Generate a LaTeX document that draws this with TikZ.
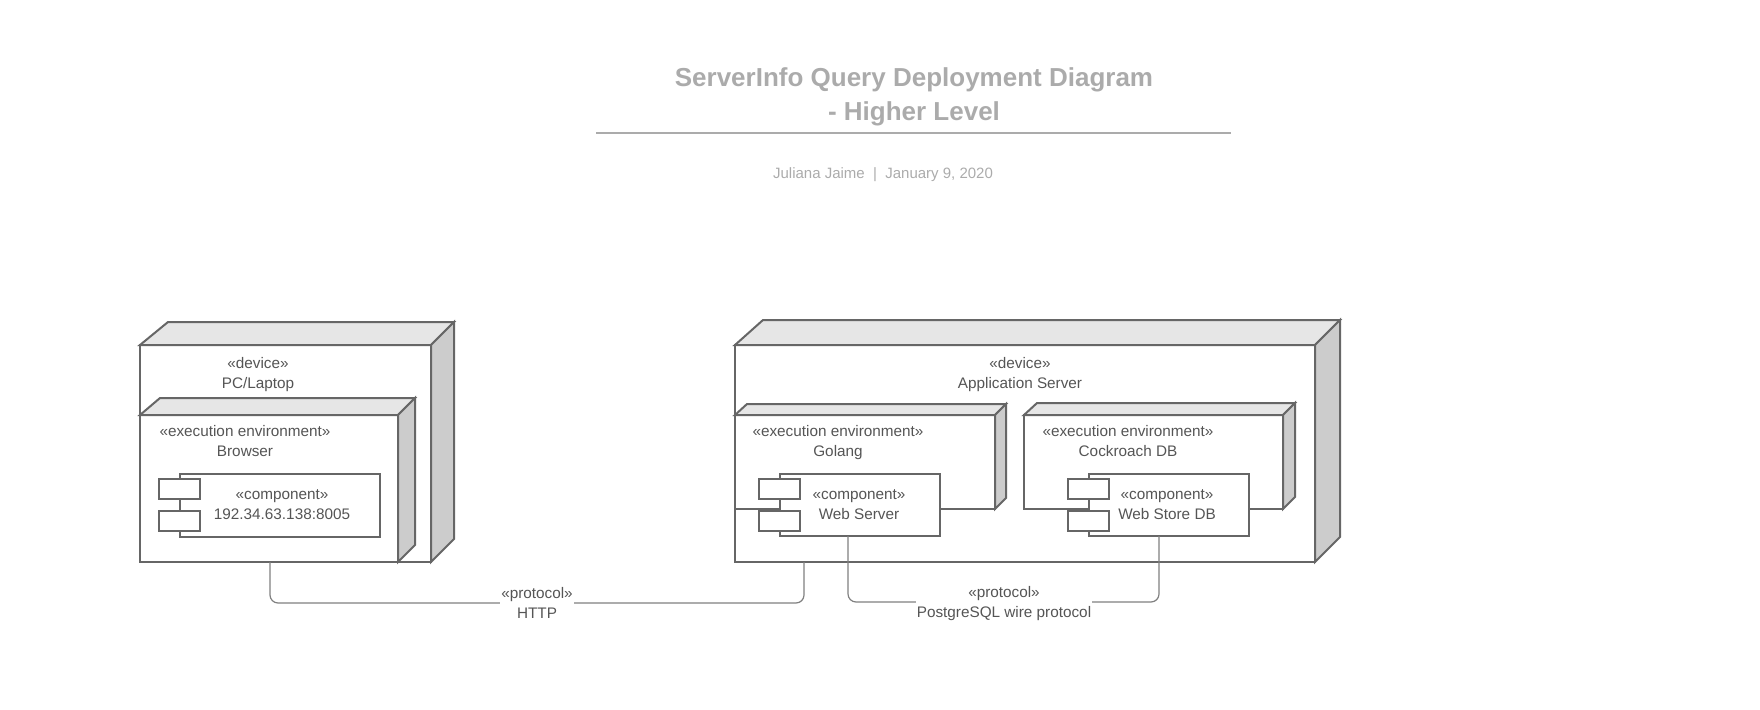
\documentclass[tikz,border=0pt]{standalone}
\usepackage{fontspec}
\setmainfont{Liberation Sans}
\usetikzlibrary{positioning,calc}

\definecolor{boxline}{HTML}{666666}
\definecolor{topgray}{HTML}{E6E6E6}
\definecolor{sidegray}{HTML}{CCCCCC}
\definecolor{labelgray}{HTML}{555555}
\definecolor{titlegray}{HTML}{ABABAB}
\definecolor{linkgray}{HTML}{808080}

% top and right faces of a 3d box: node, depth, left slant
\newcommand{\cubesides}[3]{%
  \filldraw[cubeface, fill=topgray] (#1.north west) -- ++(#3,-#2) -- ([shift={(#2,-#2)}]#1.north east) -- (#1.north east) -- cycle;
  \filldraw[cubeface, fill=sidegray] (#1.north east) -- ([shift={(#2,-#2)}]#1.north east) -- ([shift={(#2,-#2)}]#1.south east) -- (#1.south east) -- cycle;
}
% two text lines of equal height
\newcommand{\twolines}[2]{\strut#1\\\strut#2}

\begin{document}
\begin{tikzpicture}[x=1pt,y=-1pt,
    box/.style={draw=boxline, line width=2pt, fill=white, rectangle, anchor=north west, inner sep=0pt, outer sep=0pt},
    cubeface/.style={draw=boxline, line width=2pt, line join=miter},
    port/.style={box, minimum width=41pt, minimum height=20pt},
    txt/.style={text=labelgray, font=\fontsize{15.3}{20}\selectfont, align=center, inner sep=0pt},
    proto/.style={txt, fill=white, inner xsep=1pt, inner ysep=0pt},
    conn/.style={draw=linkgray, line width=1.2pt, rounded corners=8pt}]
    \useasboundingbox (0,0) rectangle (1760,709);

    % heading
    \node[font=\bfseries\fontsize{26}{34}\selectfont, text=titlegray, align=center] (title) at (914,97) {ServerInfo Query Deployment Diagram\\- Higher Level};
    \draw[titlegray, line width=1.5pt] (596,133) -- (1231,133);
    \node[font=\fontsize{15}{18}\selectfont, text=titlegray] (byline) at (883,175) {Juliana Jaime ~|~ January 9, 2020};

    % client side
    \node[box, minimum width=291pt, minimum height=217pt] (pcdev) at (140,345) {};
    \cubesides{pcdev}{23}{28}
    \node[txt] (pclbl) at (258,374.5) {\twolines{«device»}{PC/Laptop}};
    \node[box, minimum width=258pt, minimum height=147pt] (browser) at (140,415) {};
    \cubesides{browser}{17}{20}
    \node[txt] (browserlbl) at (245,442.5) {\twolines{«execution environment»}{Browser}};
    \node[box, minimum width=200pt, minimum height=63pt] (ipcomp) at (180,474) {};
    \node[port] (ipport1) at (159,479) {};
    \node[port] (ipport2) at (159,511) {};
    \node[txt] (iplbl) at (282,505.5) {\twolines{«component»}{192.34.63.138:8005}};

    % server side
    \node[box, minimum width=580pt, minimum height=217pt] (appdev) at (735,345) {};
    \cubesides{appdev}{25}{28}
    \node[txt] (applbl) at (1020,374.5) {\twolines{«device»}{Application Server}};

    \node[box, minimum width=260pt, minimum height=94pt] (golang) at (735,415) {};
    \cubesides{golang}{11}{12}
    \node[txt] (golanglbl) at (838,442.5) {\twolines{«execution environment»}{Golang}};
    \node[box, minimum width=160pt, minimum height=62pt] (websrv) at (780,474) {};
    \node[port] (srvport1) at (759,479) {};
    \node[port] (srvport2) at (759,511) {};
    \node[txt] (websrvlbl) at (859,505.5) {\twolines{«component»}{Web Server}};

    \node[box, minimum width=259pt, minimum height=94pt] (roach) at (1024,415) {};
    \cubesides{roach}{12}{13}
    \node[txt] (roachlbl) at (1128,442.5) {\twolines{«execution environment»}{Cockroach DB}};
    \node[box, minimum width=160pt, minimum height=62pt] (webdb) at (1089,474) {};
    \node[port] (dbport1) at (1068,479) {};
    \node[port] (dbport2) at (1068,511) {};
    \node[txt] (webdblbl) at (1167,505.5) {\twolines{«component»}{Web Store DB}};

    % links
    \draw[conn] ([xshift=130pt]pcdev.south west) -- ++(0,41) -| ([xshift=69pt]appdev.south west);
    \node[proto] (httplbl) at (537,604) {\twolines{«protocol»}{HTTP}};
    \draw[conn] ([xshift=-12pt]websrv.south) -- ++(0,66) -| ([xshift=-10pt]webdb.south);
    \node[proto] (pglbl) at (1004,603) {\twolines{«protocol»}{PostgreSQL wire protocol}};
\end{tikzpicture}
\end{document}
